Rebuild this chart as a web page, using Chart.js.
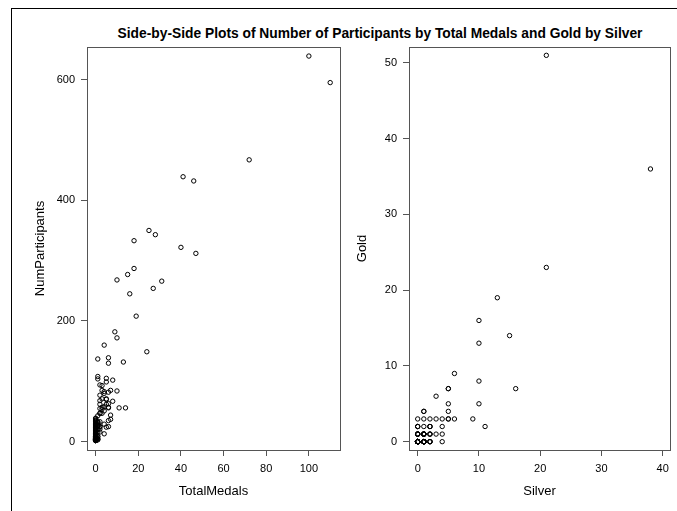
<!DOCTYPE html>
<html>
<head>
<meta charset="utf-8">
<script src="https://cdn.jsdelivr.net/npm/chart.js@4"></script>
<style>
  html, body { margin: 0; padding: 0; background: #fff; }
  #page { position: relative; width: 677px; height: 511px; overflow: hidden; background: #fff; }
  #frame { position: absolute; left: 11px; top: 8px; width: 700px; height: 600px;
           border-top: 1px solid #000; border-left: 1px solid #000; }
  #title { position: absolute; left: 0; top: 26px; width: 760px; line-height: 16px;
           text-align: center; white-space: nowrap; color: #000;
           font: bold 13.8px Arial, "Liberation Sans", sans-serif; }
  canvas { position: absolute; top: 0; }
</style>
</head>
<body>
<div id="page">
  <div id="frame"></div>
  <div id="title">Side-by-Side Plots of Number of Participants by Total Medals and Gold by Silver</div>
  <canvas id="leftPlot" width="345" height="511" style="left:0px"></canvas>
  <canvas id="rightPlot" width="332" height="511" style="left:345px"></canvas>
</div>
<script>
// One entry per medal-winning nation
const totalMedals = [
  100, 110, 72, 47, 41, 46, 31, 25, 28, 40,
  27, 16, 11, 18, 14, 19, 8, 7, 18, 10,
  10, 10, 15, 6, 6, 9, 6, 24, 13, 7,
  4, 4, 6, 6, 6, 3, 8, 4, 7, 6,
  5, 5, 5, 4, 3, 2, 2, 2, 2, 3,
  2, 1, 1, 1, 1, 5, 5, 5, 4, 2,
  4, 3, 3, 3, 2, 2, 2, 2, 2, 2,
  1, 1, 1, 1, 1, 1, 1, 1, 6, 4,
  1, 1, 1, 1, 1, 1, 1
];
const numParticipants = [
  639, 595, 467, 312, 439, 432, 266, 350, 343, 322,
  254, 245, 56, 287, 56, 208, 102, 37, 333, 268,
  172, 84, 277, 130, 57, 182, 35, 149, 132, 85,
  29, 51, 63, 139, 82, 85, 67, 13, 44, 56,
  62, 70, 24, 58, 47, 94, 25, 47, 77, 57,
  55, 16, 32, 8, 28, 105, 99, 71, 160, 33,
  83, 71, 54, 93, 62, 25, 68, 21, 47, 16,
  26, 26, 27, 33, 137, 27, 9, 20, 25, 80,
  4, 104, 43, 31, 5, 3, 108
];
const gold = [
  51, 36, 23, 19, 16, 14, 13, 9, 8, 7,
  7, 7, 6, 5, 5, 4, 4, 4, 3, 3,
  3, 3, 3, 3, 3, 3, 3, 2, 2, 2,
  2, 2, 2, 2, 2, 2, 1, 1, 1, 1,
  1, 1, 1, 1, 1, 1, 1, 1, 1, 1,
  1, 1, 1, 1, 1, 0, 0, 0, 0, 0,
  0, 0, 0, 0, 0, 0, 0, 0, 0, 0,
  0, 0, 0, 0, 0, 0, 0, 0, 0, 0,
  0, 0, 0, 0, 0, 0, 0
];
const silver = [
  21, 38, 21, 13, 10, 15, 10, 6, 10, 16,
  5, 5, 3, 10, 5, 5, 1, 1, 9, 6,
  5, 5, 4, 3, 2, 1, 0, 11, 4, 2,
  2, 2, 1, 0, 0, 0, 4, 3, 2, 2,
  2, 1, 1, 1, 1, 1, 1, 1, 1, 0,
  0, 0, 0, 0, 0, 4, 2, 2, 2, 2,
  1, 1, 1, 1, 1, 1, 1, 1, 1, 1,
  1, 1, 1, 1, 1, 1, 1, 1, 0, 0,
  0, 0, 0, 0, 0, 0, 0
];
// Team sizes of nations that won no medal (0 medals, 0 gold, 0 silver)
const noMedalParticipants = [
  11, 5, 28, 3, 4, 2, 6, 7, 4, 8, 2, 5, 5, 3, 9, 13, 19, 6, 4, 16,
  21, 34, 4, 12, 7, 30, 2, 3, 38, 24, 4, 6, 9, 15, 2, 31, 5, 8, 29, 4,
  26, 3, 12, 36, 17, 7, 5, 2, 22, 10, 3, 6, 14, 33, 4, 8, 27, 5, 2, 11,
  18, 39, 6, 4, 3, 23, 9, 5, 2, 20, 13, 7, 3, 35, 6, 4, 25, 2, 8, 4
];

const medalTicks = [0, 20, 40, 60, 80, 100];
const participantTicks = [0, 200, 400, 600];
const silverTicks = [0, 10, 20, 30, 40];
const goldTicks = [0, 10, 20, 30, 40, 50];

const AXIS = '#555555';
const FONT = 'Arial, "Liberation Sans", sans-serif';

// Closed box around each plot area
const plotFrame = {
  id: 'plotFrame',
  afterDraw(chart) {
    const a = chart.chartArea, ctx = chart.ctx;
    ctx.save();
    ctx.strokeStyle = AXIS;
    ctx.lineWidth = 1;
    ctx.strokeRect(Math.round(a.left) + 0.5, Math.round(a.top) + 0.5,
                   Math.round(a.right - a.left), Math.round(a.bottom - a.top));
    ctx.restore();
  }
};

function axis(o) {
  return {
    type: 'linear',
    position: o.position,
    min: o.min,
    max: o.max,
    afterBuildTicks: s => { s.ticks = o.ticks.map(v => ({ value: v })); },
    afterFit: s => { if (o.width) s.width = o.width; if (o.height) s.height = o.height; },
    grid: { display: true, drawOnChartArea: false, drawTicks: true, tickLength: 6, color: AXIS, lineWidth: 1 },
    border: { display: true, color: AXIS, width: 1 },
    ticks: { padding: 6, autoSkip: false, maxRotation: 0, color: '#000', font: { family: FONT, size: 11 } },
    title: { display: true, text: o.title, color: '#000', font: { family: FONT, size: 13 }, padding: o.titlePad }
  };
}

function panel(id, xs, ys, extraX, extraY, o) {
  const pts = xs.map((x, i) => ({ x: x, y: ys[i] }));
  extraX.forEach((x, i) => pts.push({ x: x, y: extraY[i] }));
  return new Chart(document.getElementById(id), {
    type: 'scatter',
    data: { datasets: [{
      data: pts,
      pointStyle: 'circle',
      pointRadius: 2.2,
      pointBorderWidth: 1,
      borderColor: '#000',
      backgroundColor: 'rgba(0,0,0,0)'
    }] },
    options: {
      responsive: false,
      animation: false,
      events: [],
      layout: { padding: { top: 47, right: o.padRight, left: 0, bottom: 0 } },
      plugins: { legend: { display: false }, tooltip: { enabled: false } },
      scales: { x: o.x, y: o.y }
    },
    plugins: [plotFrame]
  });
}

panel('leftPlot', totalMedals, numParticipants,
  noMedalParticipants.map(() => 0), noMedalParticipants, {
  padRight: 4,
  x: axis({ position: 'bottom', min: -4.06, max: 114.6, ticks: medalTicks, height: 61,
            title: 'TotalMedals', titlePad: { top: 0, bottom: 12 } }),
  y: axis({ position: 'left', min: -13.8, max: 654, ticks: participantTicks, width: 87,
            title: 'NumParticipants', titlePad: { top: 33, bottom: 0 } })
});

panel('rightPlot', silver, gold,
  noMedalParticipants.map(() => 0), noMedalParticipants.map(() => 0), {
  padRight: 7,
  x: axis({ position: 'bottom', min: -1.42, max: 41.19, ticks: silverTicks, height: 61,
            title: 'Silver', titlePad: { top: 0, bottom: 12 } }),
  y: axis({ position: 'left', min: -1.1, max: 52.1, ticks: goldTicks, width: 64,
            title: 'Gold', titlePad: { top: 10, bottom: 0 } })
});
</script>
</body>
</html>
